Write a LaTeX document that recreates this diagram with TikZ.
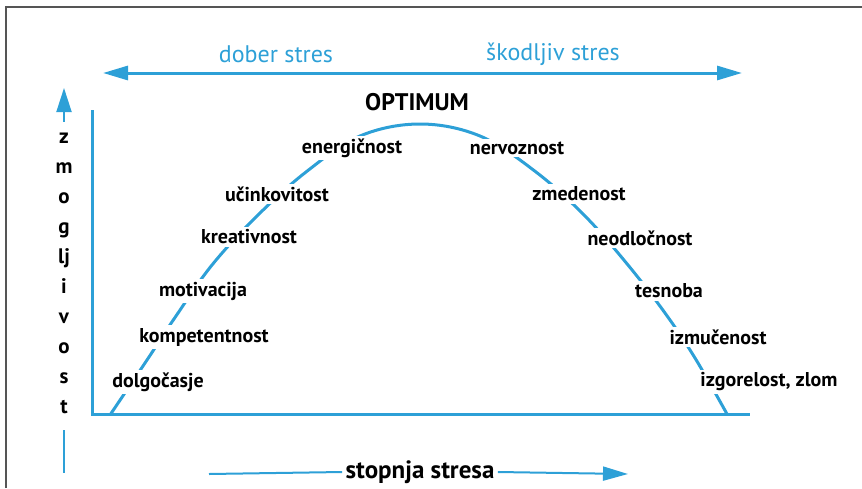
\documentclass[tikz,border=0pt]{standalone}
\usepackage{fontspec}
\setmainfont{PT Sans}
\usetikzlibrary{arrows.meta}

\definecolor{stresblue}{RGB}{45,160,215}
\definecolor{framegray}{RGB}{85,85,85}

\tikzset{
	blueline/.style={draw=stresblue,line width=3pt},
	thinblue/.style={draw=stresblue,line width=2pt},
	bigtip/.style={-{Triangle[length=25pt,width=14pt]}},
	stage/.style={font=\bfseries\fontsize{20}{20}\selectfont,fill=white,inner sep=3pt},
	zone/.style={font=\fontsize{24}{24}\selectfont,text=stresblue},
	letter/.style={font=\bfseries\fontsize{21}{21}\selectfont,anchor=base}
}

\begin{document}
\begin{tikzpicture}[x=1pt,y=-1pt]
	\useasboundingbox (0,0) rectangle (862,488);
	\draw[framegray,line width=2pt] (6,488) -- (6,7) -- (862,7);% frame

		\coordinate (Origin)   at (92,414);
		\coordinate (XAxisMax) at (750,414);
		\coordinate (YAxisMax) at (92,110);
		\draw[blueline] (YAxisMax) -- (Origin) -- (XAxisMax);% axes

		% good / harmful stress
		\coordinate (ZoneLeft)  at (103,73);
		\coordinate (ZoneRight) at (742,73);
		\draw[blueline,{Triangle[length=25pt,width=14pt]}-{Triangle[length=25pt,width=14pt]}] (ZoneLeft) -- (ZoneRight);
		\node[zone] (dober) at (276,54) {dober stres};
		\node[zone] (skodljiv) at (553,54) {škodljiv stres};

		% the curve
		\draw[blueline] plot[smooth,tension=0.6] coordinates {(110,415) (147,360) (176,316) (212,265) (257,216) (306,172) (360,136) (420,124) (480,136) (536,172) (585,216) (628,265) (665,313) (695,358) (727,414)};
		\node[font=\bfseries\fontsize{24}{24}\selectfont] (optimum) at (417,102) {OPTIMUM};

		\foreach \Name/\Pos/\Text in {dolg/{(158,382)}/dolgočasje,
				komp/{(204,337)}/kompetentnost,
				moti/{(203,291)}/motivacija,
				krea/{(249,237)}/kreativnost,
				ucin/{(277,194)}/učinkovitost,
				ener/{(352,148)}/energičnost,
				nerv/{(517,148)}/nervoznost,
				zmed/{(579,194)}/zmedenost,
				neod/{(640,238)}/neodločnost,
				tesn/{(669,291)}/tesnoba,
				izmu/{(718,337)}/izmučenost,
				izgo/{(769,382)}/{izgorelost, zlom}}
			{\node[stage] (\Name) at \Pos {\Text};}

		% zmogljivost
		\coordinate (UpBase) at (64,122);
		\coordinate (UpTip)  at (64,88);
		\draw[thinblue,{Triangle[length=24pt,width=15pt]}-] (UpTip) -- (UpBase);
		\foreach \Letter [count=\i from 0] in {z,m,o,g,lj,i,v,o,s,t}
			{\node[letter] (zm\i) at (64,143+30*\i) {\Letter};}
		\coordinate (DownTop) at (64,430);
		\coordinate (DownEnd) at (64,473);
		\draw[stresblue,line width=1.5pt] (DownTop) -- (DownEnd);

		% stopnja stresa
		\node[font=\bfseries\fontsize{25}{25}\selectfont] (stresa) at (420,472) {stopnja stresa};
		\coordinate (StresStart) at (209,474);
		\coordinate (StresEnd)   at (628,474);
		\draw[thinblue] (StresStart) -- (stresa.west);
		\draw[thinblue,bigtip] (stresa.east) -- (StresEnd);
	\end{tikzpicture}
\end{document}
